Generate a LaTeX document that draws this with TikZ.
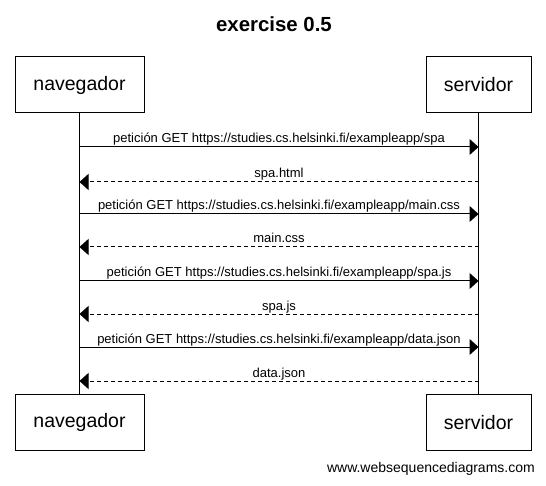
\documentclass[tikz,border=0pt]{standalone}
\usepackage{fontspec}
\setmainfont{Liberation Sans}
\usetikzlibrary{arrows.meta}
\newcommand{\msgfont}{\fontsize{13}{15}\selectfont}
\newcommand{\actorfont}{\fontsize{19.5}{23}\selectfont}
\tikzset{actor/.style={draw, line width=1pt, minimum height=56pt, inner sep=0pt, font=\actorfont}}
\tikzset{req/.style={line width=1pt, -{Triangle[length=9pt,width=16pt]}}}
\tikzset{resp/.style={req, dash pattern=on 4pt off 3pt}}
\tikzset{msglabel/.style={anchor=base, inner sep=0pt, yshift=4pt, font=\msgfont}}

\begin{document}
\begin{tikzpicture}[x=1pt, y=-1pt]
\useasboundingbox (0,0) rectangle (546,486);

\node[anchor=base, font=\bfseries\fontsize{20.4}{24}\selectfont] (title) at (274,32) {exercise 0.5};

\node[actor, minimum width=129pt] (navtop) at (79.5,85) {navegador};
\node[actor, minimum width=105pt] (sertop) at (478.5,85) {servidor};
\node[actor, minimum width=129pt] (navbot) at (79.5,422.5) {navegador};
\node[actor, minimum width=105pt] (serbot) at (478.5,422.5) {servidor};

\draw[line width=1pt] (navtop.south) -- (navbot.north);
\draw[line width=1pt] (sertop.south) -- (serbot.north);

\coordinate (n1) at (79.5,147); \coordinate (s1) at (478.5,147);
\coordinate (n2) at (79.5,182); \coordinate (s2) at (478.5,182);
\coordinate (n3) at (79.5,214); \coordinate (s3) at (478.5,214);
\coordinate (n4) at (79.5,247); \coordinate (s4) at (478.5,247);
\coordinate (n5) at (79.5,281); \coordinate (s5) at (478.5,281);
\coordinate (n6) at (79.5,314); \coordinate (s6) at (478.5,314);
\coordinate (n7) at (79.5,347); \coordinate (s7) at (478.5,347);
\coordinate (n8) at (79.5,381); \coordinate (s8) at (478.5,381);

\draw[req] (n1) -- node[msglabel] {petición GET https://studies.cs.helsinki.fi/exampleapp/spa} (s1);
\draw[resp] (s2) -- node[msglabel] {spa.html} (n2);
\draw[req] (n3) -- node[msglabel] {petición GET https://studies.cs.helsinki.fi/exampleapp/main.css} (s3);
\draw[resp] (s4) -- node[msglabel] {main.css} (n4);
\draw[req] (n5) -- node[msglabel] {petición GET https://studies.cs.helsinki.fi/exampleapp/spa.js} (s5);
\draw[resp] (s6) -- node[msglabel] {spa.js} (n6);
\draw[req] (n7) -- node[msglabel] {petición GET https://studies.cs.helsinki.fi/exampleapp/data.json} (s7);
\draw[resp] (s8) -- node[msglabel] {data.json} (n8);

\node[anchor=base east, inner sep=0pt, font=\fontsize{14}{16}\selectfont] (credit) at (535,472) {www.websequencediagrams.com};

\end{tikzpicture}
\end{document}
